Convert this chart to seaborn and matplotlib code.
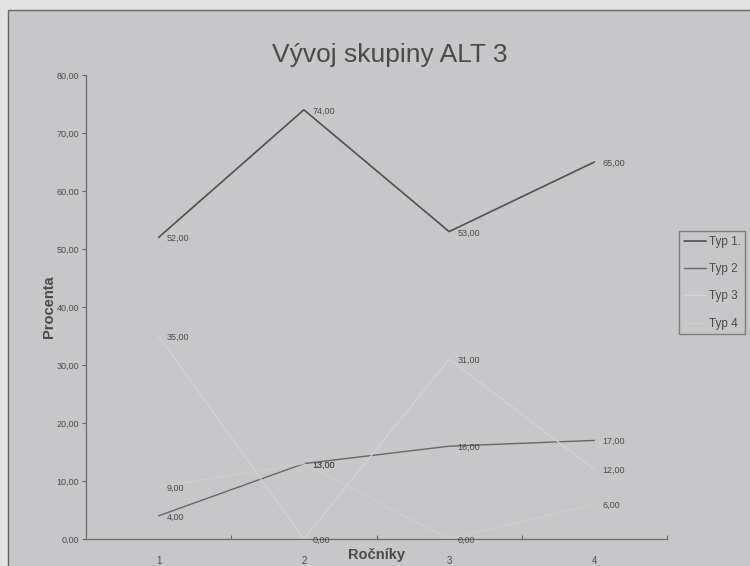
import matplotlib
matplotlib.use("Agg")
import matplotlib.pyplot as plt
import numpy as np
import pandas as pd
import seaborn as sns
from matplotlib.patches import Rectangle

rocniky = [1, 2, 3, 4]
typ1 = [52, 74, 53, 65]
typ2 = [4, 13, 16, 17]
typ3 = [35, 0, 31, 12]
typ4 = [9, 13, 0, 6]
series_names = ["Typ 1.", "Typ 2", "Typ 3", "Typ 4"]
y_ticks = [0, 10, 20, 30, 40, 50, 60, 70, 80]

BG = "#c7c7c9"
TEXT = "#4a4a4a"
colors = {"Typ 1.": "#505050", "Typ 2": "#666666", "Typ 3": "#d3d3d5", "Typ 4": "#cfcfd0"}
widths = {"Typ 1.": 1.2, "Typ 2": 1.0, "Typ 3": 0.9, "Typ 4": 0.9}

df = pd.DataFrame({
    "Ročníky": rocniky * 4,
    "Procenta": typ1 + typ2 + typ3 + typ4,
    "Typ": np.repeat(series_names, len(rocniky)),
})

sns.set_theme(style="white")
plt.rcParams["font.family"] = ["Liberation Sans", "DejaVu Sans"]


def fmt(v):
    return f"{v:.2f}".replace(".", ",")


fig = plt.figure(figsize=(7.5, 5.66), dpi=100)
fig.patch.set_facecolor("#e3e3e3")
frame = Rectangle((8 / 750, -0.05), 1.1, 1.05 - 10 / 566,
                  transform=fig.transFigure, facecolor=BG,
                  edgecolor="#666666", linewidth=1.0, zorder=-10)
fig.add_artist(frame)

ax = fig.add_axes([86 / 750, 1 - 539 / 566, (667 - 86) / 750, (539 - 75) / 566])
ax.set_facecolor("none")
ax.set_zorder(1)

sns.lineplot(data=df, x="Ročníky", y="Procenta", hue="Typ", palette=colors,
             hue_order=series_names, ax=ax, legend=False, sort=False)
for line, name in zip(ax.get_lines(), series_names):
    line.set_linewidth(widths[name])

for name, vals in zip(series_names, [typ1, typ2, typ3, typ4]):
    for x, v in zip(rocniky, vals):
        ax.annotate(fmt(v), (x, v), xytext=(6, -1), textcoords="offset points",
                    fontsize=6.5, color=TEXT, va="center", ha="left")

ax.set_xlim(0.5, 4.5)
ax.set_ylim(0, 80)
ax.set_yticks(y_ticks)
ax.set_yticklabels([fmt(v) for v in y_ticks], fontsize=6.5, color=TEXT)
ax.set_xticks(rocniky)
ax.set_xticklabels([str(r) for r in rocniky], fontsize=7, color=TEXT)
ax.tick_params(axis="x", length=0, pad=12)
ax.tick_params(axis="y", length=3, width=0.8, color="#666666", pad=2, left=True)
ax.set_xticks([1.5, 2.5, 3.5, 4.5], minor=True)
ax.tick_params(axis="x", which="minor", direction="in", length=3, width=0.8,
               color="#666666", bottom=True)

for side in ["top", "right"]:
    ax.spines[side].set_visible(False)
for side in ["left", "bottom"]:
    ax.spines[side].set_color("#6a6a6a")
    ax.spines[side].set_linewidth(0.9)

ax.set_xlabel("Ročníky", fontsize=10.5, fontweight="bold", color=TEXT, va="center")
ax.xaxis.set_label_coords(0.5, -0.034)
ax.set_ylabel("Procenta", fontsize=10.5, fontweight="bold", color=TEXT)
ax.yaxis.set_label_coords(-0.052, 0.5)
fig.text(390 / 750, 1 - 55 / 566, "Vývoj skupiny ALT 3", fontsize=19, color=TEXT,
         ha="center", va="center")

handles = [plt.Line2D([0], [0], color=colors[n], lw=widths[n]) for n in series_names]
leg = fig.legend(handles, series_names, loc="upper left",
                 bbox_to_anchor=(679 / 750, 1 - 231 / 566), frameon=True,
                 fontsize=8.5, handlelength=1.9, handletextpad=0.2,
                 labelspacing=1.3, borderpad=0.4, borderaxespad=0,
                 fancybox=False)
leg.get_frame().set_facecolor(BG)
leg.get_frame().set_edgecolor("#6a6a6a")
for t in leg.get_texts():
    t.set_color(TEXT)

fig.savefig("out.png", dpi=100, facecolor=fig.get_facecolor())
